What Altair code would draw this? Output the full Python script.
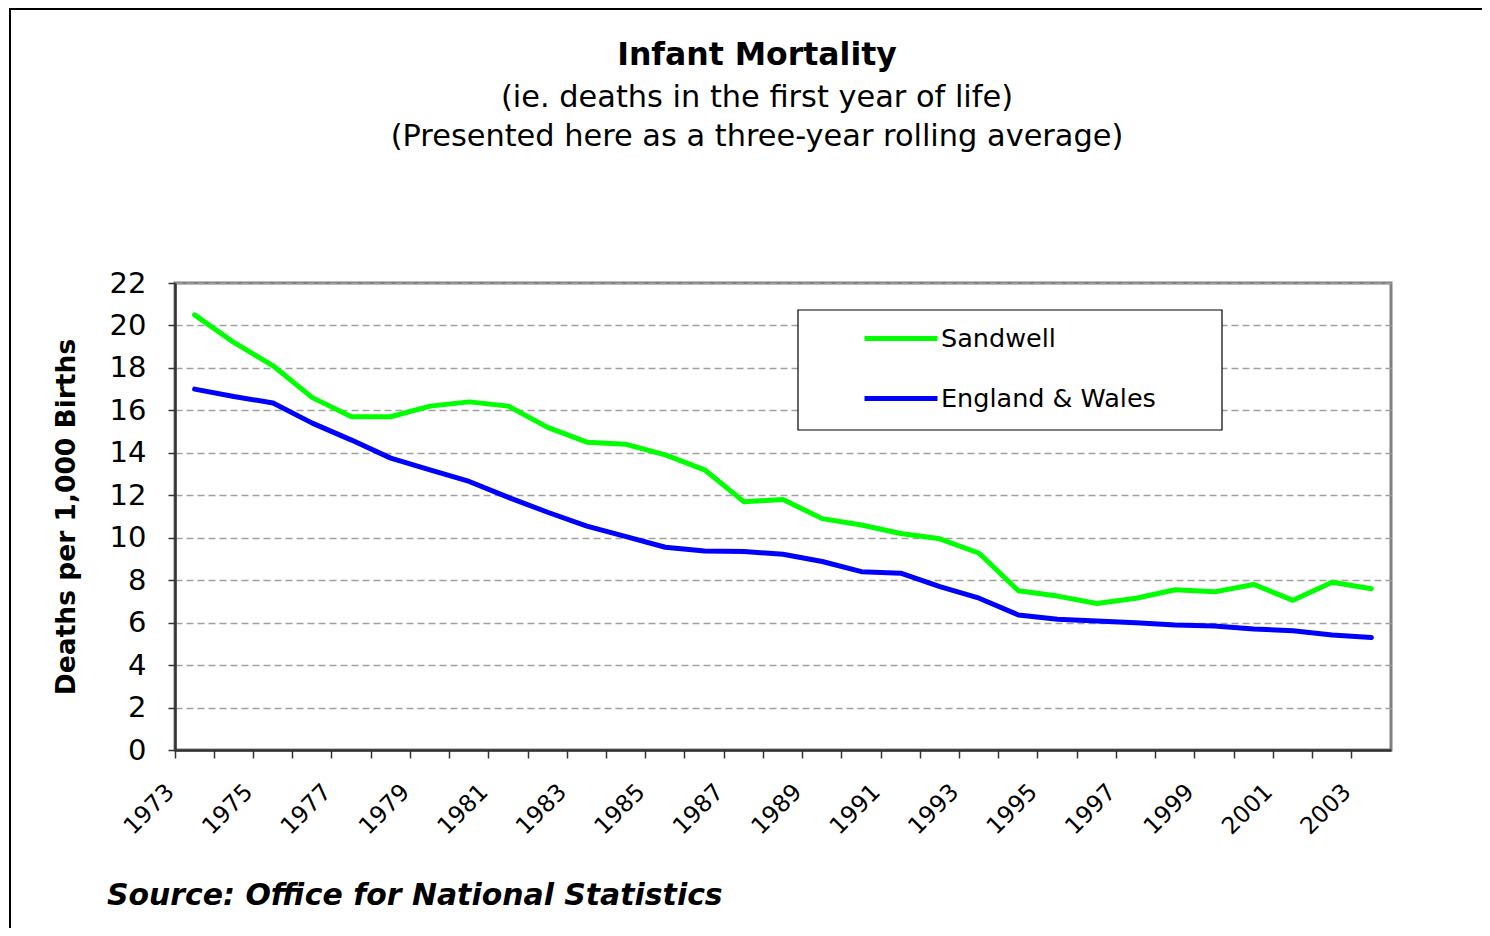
import altair as alt
import pandas as pd

# ---- data ----
years = list(range(1973, 2004))
sandwell = [20.5, 19.2, 18.1, 16.6, 15.7, 15.7, 16.2, 16.4, 16.2, 15.2, 14.5,
            14.4, 13.9, 13.2, 11.7, 11.8, 10.9, 10.6, 10.2, 9.95, 9.27,
            7.5, 7.25, 6.9, 7.15, 7.55, 7.45, 7.8, 7.05, 7.9, 7.6]
england_wales = [17.0, 16.65, 16.35, 15.4, 14.6, 13.75, 13.2, 12.65, 11.9, 11.2, 10.55,
                 10.05, 9.55, 9.38, 9.35, 9.22, 8.88, 8.4, 8.33, 7.7, 7.15,
                 6.36, 6.16, 6.08, 6.0, 5.89, 5.84, 5.7, 5.62, 5.42, 5.3]
series_names = ["Sandwell", "England & Wales"]
series_colors = ["#00FF00", "#0000FF"]
y_ticks = list(range(0, 23, 2))
title_text = "Infant Mortality"
subtitle_1 = "(ie. deaths in the first year of life)"
subtitle_2 = "(Presented here as a three-year rolling average)"
source_text = "Source: Office for National Statistics"
y_title = "Deaths per 1,000 Births"

rows = []
for name, vals in zip(series_names, [sandwell, england_wales]):
    for yr, v in zip(years, vals):
        rows.append({"Year": yr, "Series": name, "Value": v})
df = pd.DataFrame(rows)

FONT = "DejaVu Sans"
W, H = 1216, 467

lines = alt.Chart(df).mark_line(strokeWidth=5, strokeJoin="round", strokeCap="round").encode(
    x=alt.X(
        "Year:O",
        bandPosition=0.5,
        scale=alt.Scale(type="band", paddingInner=0, paddingOuter=0),
        axis=alt.Axis(
            title=None, bandPosition=0, labelAngle=315, labelAlign="right",
            labelBaseline="middle", labelOverlap=False,
            labelExpr="datum.value % 2 == 1 ? datum.label : ''",
            labelFontSize=23.5, labelPadding=30, labelOffset=-24,
            tickSize=8, tickWidth=1.5, domainWidth=2.5, grid=False,
        ),
    ),
    y=alt.Y(
        "Value:Q",
        scale=alt.Scale(domain=[0, 22], nice=False),
        axis=alt.Axis(
            values=y_ticks, title=y_title, labelFontSize=29, labelPadding=22,
            tickSize=7, tickWidth=1.5, domainWidth=2.5,
            grid=True, gridDash=[7, 4], gridColor="#a0a0a0", gridWidth=1.5,
            titleFontSize=26.5, titleFontWeight="bold", titleAngle=270,
            titleX=-109, titleY=233.5, titleAlign="center", titleBaseline="middle",
        ),
    ),
    color=alt.Color(
        "Series:N",
        scale=alt.Scale(domain=series_names, range=series_colors),
        legend=alt.Legend(
            title=None, orient="none", legendX=623, legendY=27,
            padding=12, clipHeight=33, rowPadding=27,
            symbolType="stroke", symbolSize=5329, symbolStrokeWidth=5,
            symbolOffset=52, labelOffset=1,
            labelFont=FONT, labelFontSize=25.5, labelColor="black", labelLimit=600,
        ),
    ),
)


def text_layer(txt, x, y, size, weight="normal", style="normal", align="center"):
    return alt.Chart(pd.DataFrame({"t": [txt]})).mark_text(
        font=FONT, fontSize=size, fontWeight=weight, fontStyle=style,
        align=align, baseline="alphabetic", color="black",
    ).encode(x=alt.value(x), y=alt.value(y), text="t:N")


one = pd.DataFrame({"b": [0]})
border = alt.Chart(one).mark_rect(
    filled=False, stroke="black", strokeWidth=2
).encode(x=alt.value(-165), x2=alt.value(1400), y=alt.value(-274), y2=alt.value(800))

legend_box = alt.Chart(one).mark_rect(
    fill="white", stroke="black", strokeWidth=1.2
).encode(x=alt.value(623), x2=alt.value(1047), y=alt.value(27), y2=alt.value(147))

chart = alt.layer(
    border,
    legend_box,
    lines,
    text_layer(title_text, 582, -218, 31.5, weight="bold"),
    text_layer(subtitle_1, 582, -176, 30.4),
    text_layer(subtitle_2, 582, -137, 30.4),
    text_layer(source_text, -68, 622, 29.9, weight="bold", style="italic", align="left"),
).properties(
    width=W, height=H,
    padding={"left": 167, "top": 275, "right": 91, "bottom": 178},
    autosize=alt.AutoSizeParams(type="none"),
    background="white",
).configure_view(
    stroke="#808080", strokeWidth=3
).configure_axis(
    labelFont=FONT, titleFont=FONT, labelColor="black", titleColor="black",
    domainColor="#333333", tickColor="#333333",
)

chart.save("out.html", embed_options={"renderer": "svg", "actions": False})
